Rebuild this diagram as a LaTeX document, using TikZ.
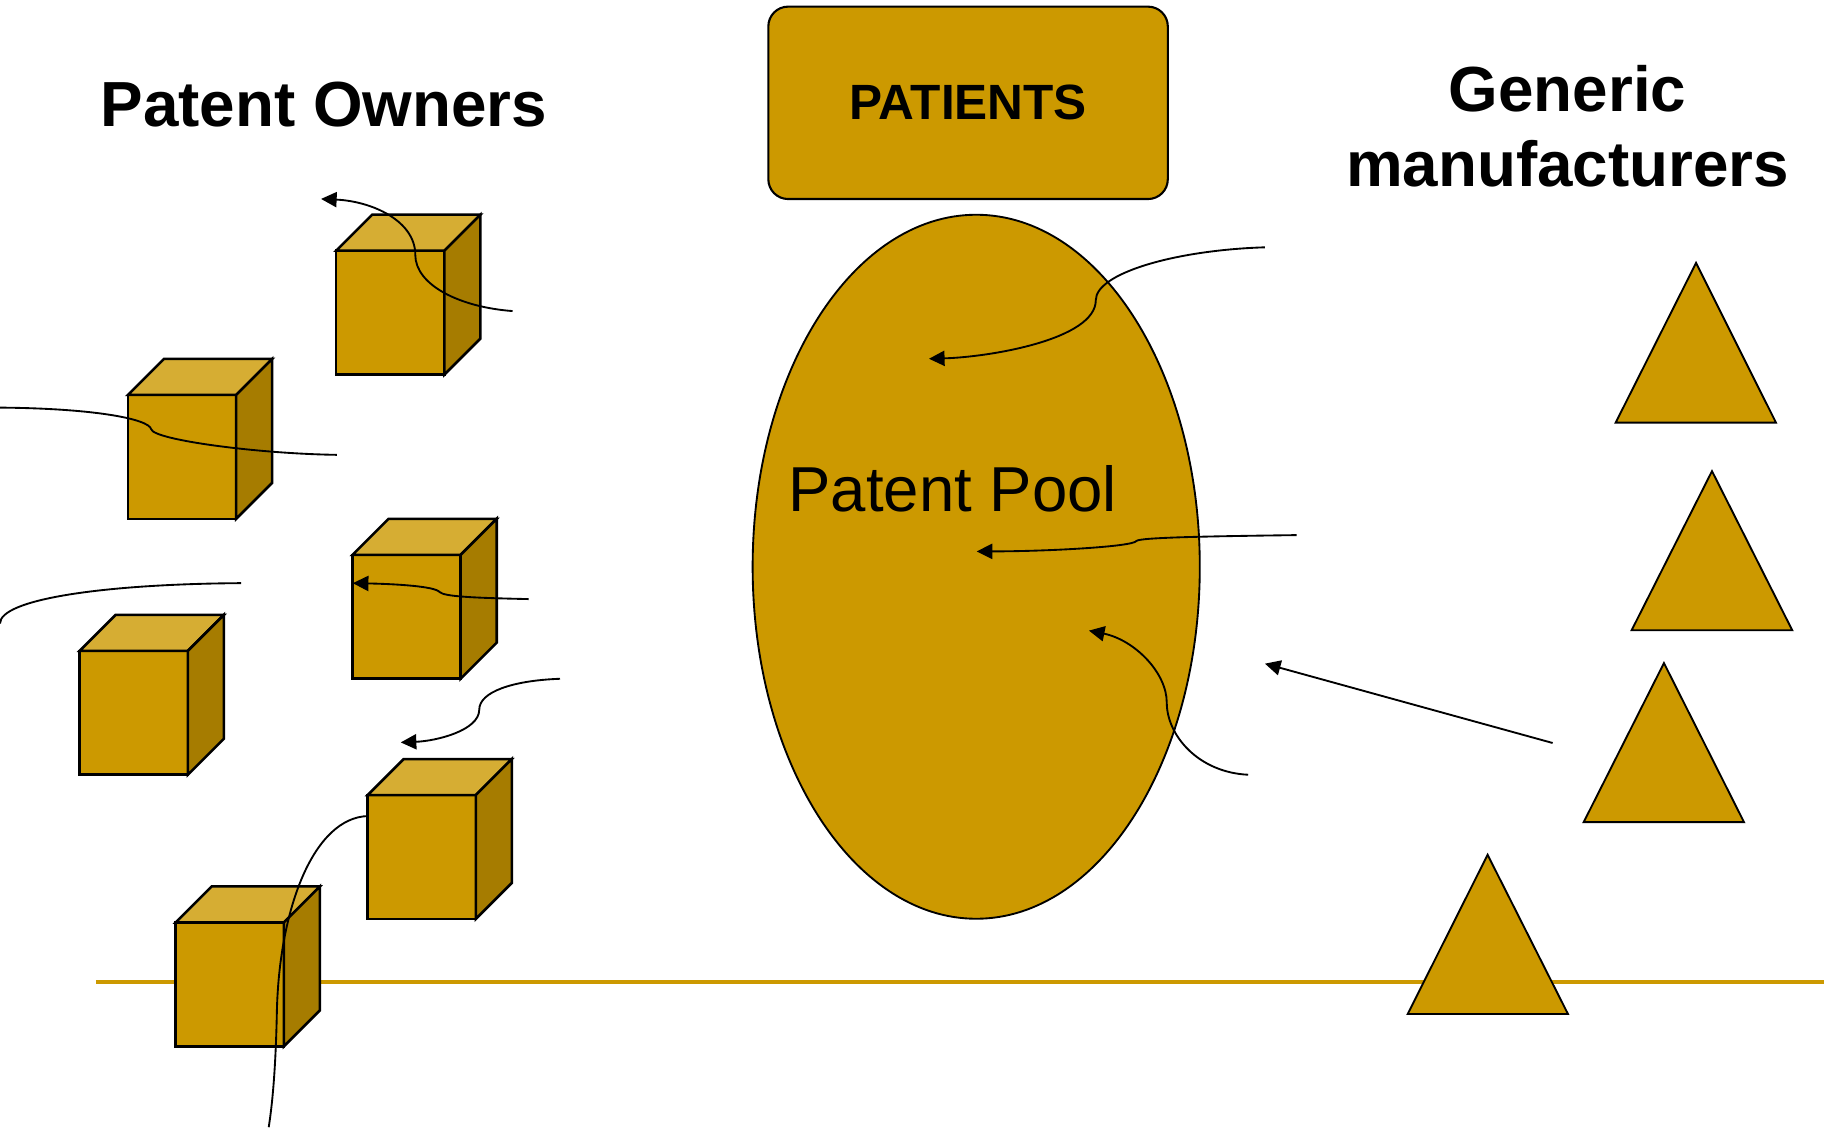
\documentclass[tikz,border=0pt]{standalone}
\usepackage{fontspec}
\setmainfont{Liberation Sans}
\usetikzlibrary{shapes.geometric,arrows.meta}
\definecolor{gold}{HTML}{CC9900}
\definecolor{goldtop}{HTML}{D6AD33}
\definecolor{goldside}{HTML}{A67C00}
\tikzset{
  cubeface/.style={draw=black,line width=1.1pt,line join=miter},
  cube/.pic={
    \path[cubeface,fill=gold] (0,0) rectangle (93,106.5);
    \path[cubeface,fill=goldtop] (0,0) -- (31,-31) -- (124,-31) -- (93,0) -- cycle;
    \path[cubeface,fill=goldside] (93,0) -- (124,-31) -- (124,75.5) -- (93,106.5) -- cycle;
  },
  tri/.style={draw=black,fill=gold,line width=0.8pt,line join=miter},
  conn/.style={draw=black,line width=0.8pt},
  arr/.style={conn,-{Triangle[length=6.7pt,width=6.5pt]}},
  titletext/.style={font=\bfseries\fontsize{27.4}{32}\selectfont,inner sep=0pt,anchor=base},
}
\begin{document}
\begin{tikzpicture}[x=0.5pt,y=-0.5pt]
\useasboundingbox (0,0) rectangle (1568,969);
\fill[white] (0,0) rectangle (1568,969);
% ground line
\coordinate (gls) at (82.5,844.4);
\coordinate (gle) at (1568,844.4);
\draw[gold,line width=1.7pt] (gls) -- (gle);
% cubes (patent owners)
\pic at (289,215.5) {cube};
\pic at (110,339.5) {cube};
\pic at (303,477) {cube};
\pic at (68.5,559.5) {cube};
\pic at (316,683.5) {cube};
\pic at (151,793) {cube};
% triangles (generic manufacturers)
\path[tri] (1458,226) -- (1526.7,363.3) -- (1388.9,363.3) -- cycle;
\path[tri] (1471.7,405) -- (1540.7,541.8) -- (1402.6,541.8) -- cycle;
\path[tri] (1430.4,570) -- (1499.2,706.7) -- (1361.4,706.7) -- cycle;
\path[tri] (1278.8,734.8) -- (1347.9,871.7) -- (1210.1,871.7) -- cycle;
% patients box
\node[draw=black,fill=gold,line width=0.9pt,rounded corners=8.5pt,
      minimum width=171.7pt,minimum height=82.7pt,inner sep=0pt,
      font=\bfseries\fontsize{21.3}{24}\selectfont] (patients) at (832.2,88.4) {PATIENTS};
% patent pool
\node[ellipse,draw=black,fill=gold,line width=0.8pt,inner sep=0pt,
      minimum width=192.2pt,minimum height=302.6pt] (pool) at (839.2,487.2) {};
\node[anchor=base,inner sep=0pt,font=\fontsize{27.3}{32}\selectfont] (pooltext) at (819,440) {Patent Pool};
% titles
\node[titletext] (owners) at (278.4,109) {Patent Owners};
\node[titletext] (gen1) at (1347.5,96) {Generic};
\node[titletext] (gen2) at (1347.5,160) {manufacturers};
% connector end points
\coordinate (a1s) at (440.6,267.4);
\coordinate (a1e) at (276,171);
\coordinate (a2s) at (0,350.4);
\coordinate (a2e) at (289.5,391);
\coordinate (a3s) at (207.2,501.3);
\coordinate (a3e) at (0,536);
\coordinate (a4s) at (454.4,515);
\coordinate (a4e) at (303.3,501.3);
\coordinate (a5s) at (481.4,583.5);
\coordinate (a5e) at (344.5,638.2);
\coordinate (a6s) at (316.2,701.5);
\coordinate (a6e) at (231,969);
\coordinate (a7s) at (1087.4,212.6);
\coordinate (a7e) at (798.6,308.4);
\coordinate (a8s) at (1114.7,460);
\coordinate (a8e) at (839.6,474);
\coordinate (a9s) at (1073,666);
\coordinate (a9e) at (936.1,542.1);
\coordinate (a10s) at (1334.7,638.7);
\coordinate (a10e) at (1087.4,570.5);
% connectors
\draw[arr] (a1s) .. controls (395,264) and (357,245) .. (357,219) .. controls (357,190) and (320,173) .. (a1e);
\draw[conn] (a2s) .. controls (80,351) and (128,360) .. (130,369) .. controls (132,378) and (220,390) .. (a2e);
\draw[conn] (a3s) .. controls (90,502) and (0,515) .. (a3e);
\draw[arr] (a4s) .. controls (410,514) and (382,513) .. (378,509) .. controls (374,504) and (340,502) .. (a4e);
\draw[arr] (a5s) .. controls (440,585) and (412,595) .. (412,610) .. controls (412,628) and (375,637) .. (a5e);
\draw[conn] (a6s) .. controls (270,703) and (240,780) .. (238,870) .. controls (237,920) and (234,950) .. (a6e);
\draw[arr] (a7s) .. controls (1010,215) and (942,235) .. (942,258) .. controls (942,292) and (850,307) .. (a7e);
\draw[arr] (a8s) .. controls (1040,461) and (980,462) .. (977,465) .. controls (974,470) and (900,474) .. (a8e);
\draw[arr] (a9s) .. controls (1030,664) and (1003,632) .. (1003,604) .. controls (1003,578) and (975,550) .. (a9e);
\draw[arr] (a10s) -- (a10e);
\end{tikzpicture}
\end{document}
